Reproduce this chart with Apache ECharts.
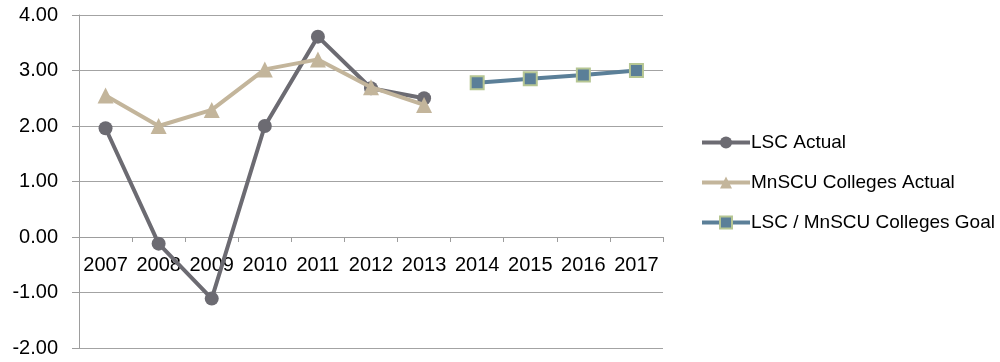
<!DOCTYPE html>
<html>
<head>
<meta charset="utf-8">
<script src="https://cdn.jsdelivr.net/npm/echarts@6/dist/echarts.min.js"></script>
<style>
  html, body { margin: 0; padding: 0; background: #fff; }
  #chart { width: 1000px; height: 362px; }
</style>
</head>
<body>
<div id="chart"></div>
<script>
var years = ['2007', '2008', '2009', '2010', '2011', '2012', '2013', '2014', '2015', '2016', '2017'];
var lscActual = [1.96, -0.12, -1.11, 2.00, 3.61, 2.68, 2.50, null, null, null, null];
var mnscuActual = [2.55, 2.00, 2.29, 3.02, 3.20, 2.70, 2.38, null, null, null, null];
var goal = [null, null, null, null, null, null, null, 2.78, 2.85, 2.92, 3.00];

var font = 'Liberation Sans';
var chart = echarts.init(document.getElementById('chart'));

chart.setOption({
  animation: false,
  textStyle: { fontFamily: font },
  grid: { left: 79, right: 337, top: 15, bottom: 14, containLabel: false, outerBoundsMode: 'none' },
  legend: {
    orient: 'vertical',
    left: 695,
    top: 128,
    itemWidth: 48,
    itemHeight: 15,
    itemGap: 21,
    lineStyle: { width: 4 },
    textStyle: { fontFamily: font, fontSize: 19, color: '#000', padding: [0, 0, 0, -4] },
    data: ['LSC Actual', 'MnSCU Colleges Actual', 'LSC / MnSCU Colleges Goal']
  },
  xAxis: [{
    type: 'category',
    data: years,
    boundaryGap: true,
    axisLine: { onZero: true, lineStyle: { color: '#9d9d9d', width: 1 } },
    axisTick: { show: true, length: 5, lineStyle: { color: '#9d9d9d' } },
    axisLabel: { show: false },
    splitLine: { show: false }
  }, {
    // labels only, lifted up to sit under the zero line
    type: 'category',
    data: years,
    boundaryGap: true,
    position: 'bottom',
    offset: -111,
    axisLine: { show: false, onZero: false },
    axisTick: { show: false },
    axisLabel: { color: '#000', fontSize: 20, fontFamily: font, margin: 18, interval: 0 },
    splitLine: { show: false }
  }],
  yAxis: {
    type: 'value',
    min: -2,
    max: 4,
    interval: 1,
    axisLine: { show: true, lineStyle: { color: '#9d9d9d', width: 1 } },
    axisTick: { show: true, length: 7, lineStyle: { color: '#9d9d9d' } },
    axisLabel: {
      color: '#000', fontSize: 20, fontFamily: font, margin: 21,
      formatter: function (v) { return v.toFixed(2); }
    },
    splitLine: { show: true, lineStyle: { color: '#a3a3a3', width: 1 } }
  },
  series: [
    {
      name: 'LSC Actual',
      type: 'line',
      data: lscActual,
      symbol: 'circle',
      symbolSize: 14,
      color: '#6c6b72',
      lineStyle: { width: 4, color: '#6c6b72' },
      itemStyle: { color: '#6c6b72' },
      z: 3
    },
    {
      name: 'MnSCU Colleges Actual',
      type: 'line',
      data: mnscuActual,
      symbol: 'triangle',
      symbolSize: 16,
      color: '#c3b59b',
      lineStyle: { width: 4, color: '#c3b59b' },
      itemStyle: { color: '#c3b59b' },
      z: 4
    },
    {
      name: 'LSC / MnSCU Colleges Goal',
      type: 'line',
      data: goal,
      symbol: 'rect',
      symbolSize: 13,
      color: '#5b7f98',
      lineStyle: { width: 4, color: '#5b7f98' },
      itemStyle: { color: '#5b7f98', borderColor: '#b6c693', borderWidth: 2 },
      z: 5
    }
  ]
});
</script>
</body>
</html>
